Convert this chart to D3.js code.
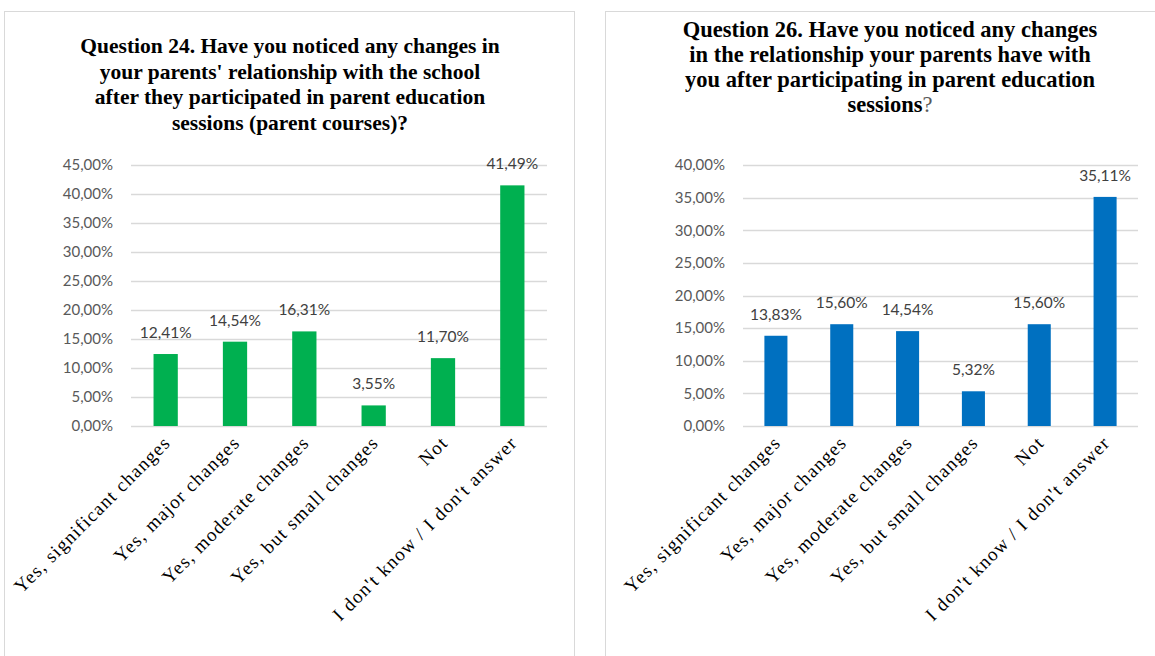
<!DOCTYPE html>
<html>
<head>
<meta charset="utf-8">
<script src="https://cdn.jsdelivr.net/npm/d3@7"></script>
<style>
  html, body { margin: 0; padding: 0; background: #fff; }
  svg { display: block; }
</style>
</head>
<body>
<svg id="chart" width="1155" height="656"></svg>
<script>
// Answer categories shared by both questions
const categories = [
  "Yes, significant changes",
  "Yes, major changes",
  "Yes, moderate changes",
  "Yes, but small changes",
  "Not",
  "I don't know / I don't answer"
];

// Question 24 – share of answers
const q24Values = [0.1241, 0.1454, 0.1631, 0.0355, 0.1170, 0.4149];
const q24Ticks = [0, 0.05, 0.10, 0.15, 0.20, 0.25, 0.30, 0.35, 0.40, 0.45];
const q24Title = [
  "Question 24. Have you noticed any changes in",
  "your parents' relationship with the school",
  "after they participated in parent education",
  "sessions (parent courses)?"
];

// Question 26 – share of answers
const q26Values = [0.1383, 0.1560, 0.1454, 0.0532, 0.1560, 0.3511];
const q26Ticks = [0, 0.05, 0.10, 0.15, 0.20, 0.25, 0.30, 0.35, 0.40];
const q26Title = [
  "Question 26. Have you noticed any changes",
  "in the relationship your parents have with",
  "you after participating in parent education",
  "sessions"
];

const locale = d3.formatLocale({ decimal: ",", thousands: ".", grouping: [3], currency: ["", ""] });
const pct = locale.format(".2%");

const svg = d3.select("#chart");

function panel(opts) {
  const g = svg.append("g");

  // frame
  g.append("rect")
    .attr("x", opts.frame[0] + 0.5).attr("y", opts.frame[1] + 0.5)
    .attr("width", opts.frame[2]).attr("height", opts.frame[3])
    .attr("fill", "#fff").attr("stroke", "#d9d9d9").attr("stroke-width", 1);

  // title
  const title = g.append("text")
    .attr("text-anchor", "middle")
    .attr("font-family", "'Liberation Serif', 'DejaVu Serif', serif")
    .attr("font-weight", "bold")
    .attr("font-size", opts.titleSize)
    .attr("fill", "#000");
  opts.title.forEach((line, i) => {
    title.append("tspan")
      .attr("x", opts.titleX)
      .attr("y", opts.titleY + i * opts.titleLead)
      .text(line);
    if (opts.titleTail && i === opts.title.length - 1) {
      title.append("tspan").attr("font-weight", "normal").attr("fill", "#595959").text(opts.titleTail);
    }
  });

  const x = d3.scaleBand()
    .domain(opts.categories)
    .range([opts.x0, opts.x1])
    .paddingInner(0.65)
    .paddingOuter(0.325);
  const y = d3.scaleLinear()
    .domain([0, d3.max(opts.ticks)])
    .range([opts.yBottom, opts.yTop]);

  // gridlines
  g.append("g")
    .selectAll("line")
    .data(opts.ticks)
    .join("line")
    .attr("x1", opts.x0).attr("x2", opts.x1)
    .attr("y1", d => Math.round(y(d)) + 0.5).attr("y2", d => Math.round(y(d)) + 0.5)
    .attr("stroke", "#d9d9d9").attr("stroke-width", 1.5);

  // y axis labels
  const yAxis = g.append("g")
    .attr("transform", `translate(${opts.x0 - 18},0)`)
    .call(d3.axisLeft(y).tickValues(opts.ticks).tickFormat(pct).tickSize(0).tickPadding(0));
  yAxis.select(".domain").remove();
  yAxis.selectAll("text")
    .attr("font-family", "Lato, 'Open Sans', sans-serif")
    .attr("font-size", 15)
    .attr("fill", "#595959");

  // bars
  g.append("g")
    .selectAll("rect")
    .data(opts.values)
    .join("rect")
    .attr("x", (d, i) => x(opts.categories[i]))
    .attr("width", x.bandwidth())
    .attr("y", d => y(d))
    .attr("height", d => y(0) - y(d))
    .attr("fill", opts.color);

  // value labels
  g.append("g")
    .selectAll("text")
    .data(opts.values)
    .join("text")
    .attr("x", (d, i) => x(opts.categories[i]) + x.bandwidth() / 2)
    .attr("y", d => y(d) - 16)
    .attr("text-anchor", "middle")
    .attr("font-family", "Lato, 'Open Sans', sans-serif")
    .attr("font-size", 15.5)
    .attr("fill", "#404040")
    .text(d => pct(d));

  // category labels
  g.append("g")
    .selectAll("text")
    .data(opts.categories)
    .join("text")
    .attr("transform", d => `translate(${x(d) + x.bandwidth() / 2 + 6},${opts.yBottom + 18}) rotate(-45)`)
    .attr("text-anchor", "end")
    .attr("font-family", "'Liberation Serif', 'DejaVu Serif', serif")
    .attr("font-size", 19)
    .attr("letter-spacing", 1.2)
    .attr("fill", "#000")
    .text(d => d);
}

panel({
  frame: [4, 11, 570, 660],
  title: q24Title,
  titleX: 290, titleY: 53, titleLead: 25.5, titleSize: 21.5,
  categories, values: q24Values, ticks: q24Ticks,
  x0: 131, x1: 547, yTop: 165, yBottom: 426,
  color: "#00b050"
});

panel({
  frame: [605, 11, 560, 660],
  title: q26Title, titleTail: "?",
  titleX: 890, titleY: 37, titleLead: 25, titleSize: 22.5,
  categories, values: q26Values, ticks: q26Ticks,
  x0: 743, x1: 1138, yTop: 165, yBottom: 426,
  color: "#0070c0"
});
</script>
</body>
</html>
